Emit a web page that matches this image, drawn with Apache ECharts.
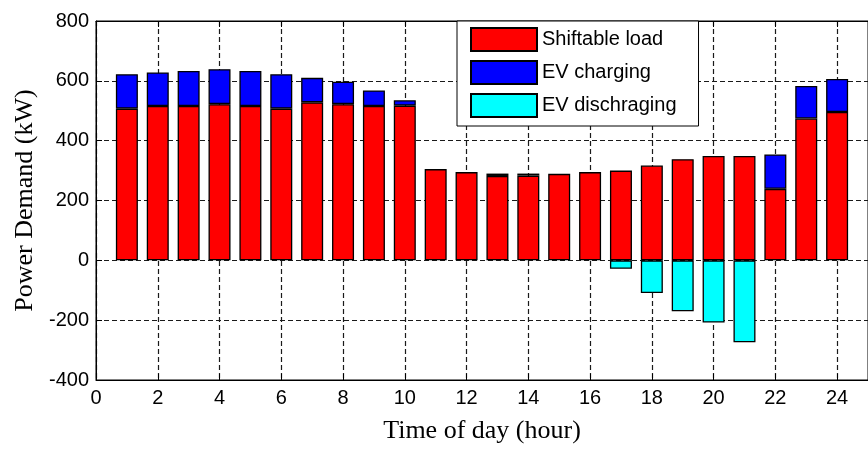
<!DOCTYPE html>
<html>
<head>
<meta charset="utf-8">
<style>
  html, body { margin: 0; padding: 0; background: #fff; }
  #chart { width: 868px; height: 449px; }
</style>
<script src="https://cdn.jsdelivr.net/npm/echarts@6/dist/echarts.min.js"></script>
</head>
<body>
<div id="chart"></div>
<script>
// Hourly power demand (kW); the hour axis runs from 0 to 25
const hourSlots = [0, 1, 2, 3, 4, 5, 6, 7, 8, 9, 10, 11, 12, 13, 14, 15, 16, 17, 18, 19, 20, 21, 22, 23, 24, 25];
const shiftableLoad = [507, 516, 516, 522, 516, 507, 528, 522, 516, 517, 305, 295, 282, 283, 289, 295, 300, 317, 338, 349, 349, 239, 474, 496];
const evCharging = [115, 112, 117, 117, 117, 115, 82, 75, 52, 18, 0, 0, 8, 7, 0, 0, 0, 0, 0, 0, 0, 115, 109, 110];
const evDischarging = [0, 0, 0, 0, 0, 0, 0, 0, 0, 0, 0, 0, 0, 0, 0, 0, -28, -109, -170, -208, -274, 0, 0, 0];
const seriesNames = ['Shiftable load', 'EV charging', 'EV dischraging'];
const xTicks = [0, 2, 4, 6, 8, 10, 12, 14, 16, 18, 20, 22, 24];
const yTicks = [-400, -200, 0, 200, 400, 600, 800];

// hours 1..24 sit on slots 1..24; slots 0 and 25 stay empty
const slotData = vals => hourSlots.map(s => (s >= 1 && s <= 24 && vals[s - 1] !== 0) ? vals[s - 1] : '-');

const chart = echarts.init(document.getElementById('chart'), null, { renderer: 'canvas' });

const dashed = { color: '#1a1a1a', width: 1.2, type: [5, 3] };
const tickFont = { fontFamily: 'Liberation Sans, Arial, sans-serif', fontSize: 20, color: '#000' };
const titleFont = { fontFamily: 'Liberation Serif, Times New Roman, serif', fontSize: 26, color: '#000' };

const barStyle = color => ({ color: color, borderColor: '#000', borderWidth: 1.3 });

chart.setOption({
  animation: false,
  backgroundColor: '#fff',
  grid: {
    left: 96, top: 21, width: 779, height: 360,
    show: true, borderColor: '#000', borderWidth: 1, backgroundColor: 'transparent'
  },
  legend: {
    orient: 'vertical',
    left: 457, top: 21,
    padding: [6, 22, 8, 13],
    itemWidth: 66, itemHeight: 23, itemGap: 8,
    backgroundColor: '#fff', borderColor: '#000', borderWidth: 1,
    textStyle: { fontFamily: 'Liberation Sans, Arial, sans-serif', fontSize: 20, color: '#000' },
    icon: 'rect',
    data: seriesNames
  },
  xAxis: [{
    type: 'category', data: hourSlots.map(String), boundaryGap: false,
    position: 'bottom',
    name: 'Time of day (hour)', nameLocation: 'middle', nameGap: 38,
    nameTextStyle: titleFont,
    axisLine: { show: true, onZero: false, lineStyle: { color: '#000', width: 1 } },
    axisTick: { show: true, inside: true, length: 6, interval: 1, lineStyle: { color: '#000' } },
    axisLabel: Object.assign({ margin: 8, interval: 1,
      formatter: v => xTicks.includes(Number(v)) ? v : '' }, tickFont),
    splitLine: { show: true, interval: 1, lineStyle: dashed }
  }, {
    type: 'category', data: hourSlots.map(String), boundaryGap: false,
    position: 'top',
    axisLine: { show: true, onZero: false, lineStyle: { color: '#000', width: 1 } },
    axisTick: { show: true, inside: true, length: 6, interval: 1, lineStyle: { color: '#000' } },
    axisLabel: { show: false },
    splitLine: { show: false }
  }],
  yAxis: [{
    type: 'value', min: -400, max: 800, interval: 200,
    name: 'Power Demand (kW)', nameLocation: 'middle', nameGap: 58,
    nameTextStyle: titleFont,
    axisLine: { show: true, onZero: false, lineStyle: { color: '#000', width: 1 } },
    axisTick: { show: true, inside: true, length: 6, lineStyle: { color: '#000' } },
    axisLabel: Object.assign({ margin: 7,
      formatter: v => yTicks.includes(v) ? String(v) : '' }, tickFont),
    splitLine: { show: true, lineStyle: dashed }
  }],
  series: [{
    name: seriesNames[0], type: 'bar', stack: 'demand', barWidth: 22,
    itemStyle: barStyle('#ff0000'),
    data: slotData(shiftableLoad)
  }, {
    name: seriesNames[1], type: 'bar', stack: 'demand', barWidth: 22,
    itemStyle: barStyle('#0000ff'),
    data: slotData(evCharging)
  }, {
    name: seriesNames[2], type: 'bar', stack: 'demand', barWidth: 22,
    itemStyle: barStyle('#00ffff'),
    data: slotData(evDischarging)
  }]
});
</script>
</body>
</html>
